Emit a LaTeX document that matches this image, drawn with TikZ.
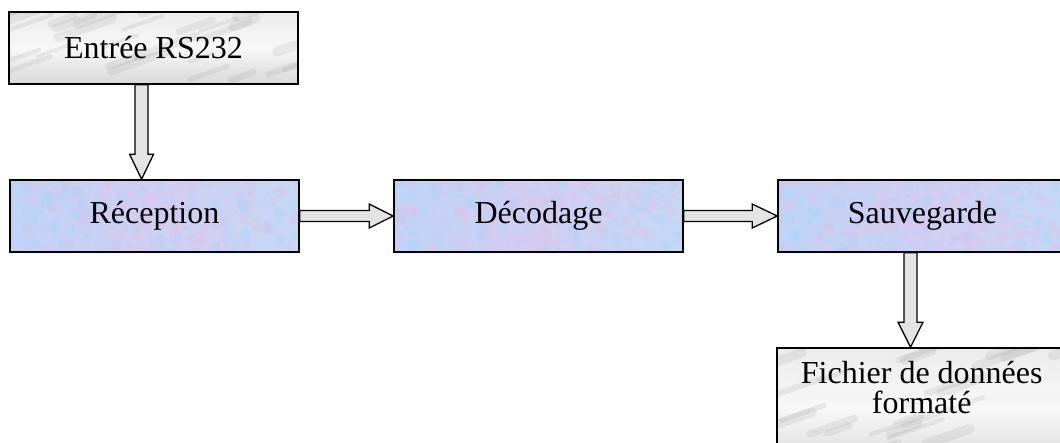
\documentclass[tikz,border=0pt]{standalone}
\usepackage{fontspec}
\setmainfont{Liberation Serif}
\usetikzlibrary{calc}
\definecolor{blueA}{RGB}{190,212,246}
\definecolor{blueB}{RGB}{210,206,242}
\definecolor{blueC}{RGB}{196,216,244}
\definecolor{pinkish}{RGB}{225,192,232}
\definecolor{bluish}{RGB}{170,212,248}
\definecolor{marbleA}{RGB}{236,236,236}
\definecolor{marbleB}{RGB}{216,216,216}
\definecolor{streak}{RGB}{140,140,140}
\definecolor{arrowfill}{RGB}{228,228,228}
\tikzset{
  box/.style={draw=black, line width=1.6pt, minimum width=289pt, minimum height=72pt,
    inner sep=0pt, font=\fontsize{32}{30}\selectfont, align=center},
  bluebox/.style={box, left color=blueA, right color=blueC, middle color=blueB,
    path picture={
      \path (path picture bounding box.south west) coordinate (sw)
            (path picture bounding box.north east) coordinate (ne);
      \foreach \k in {1,...,260}{
        \pgfmathsetmacro\px{rnd}\pgfmathsetmacro\py{rnd}\pgfmathsetmacro\pr{2+4*rnd}
        \pgfmathsetmacro\pc{rnd}
        \coordinate (qx) at ($(sw)!\px!(sw -| ne)$);
        \coordinate (qy) at ($(sw)!\py!(sw |- ne)$);
        \ifdim\pc pt<0.5pt
          \fill[pinkish, opacity=0.3] (qx |- qy) circle[radius=\pr pt];
        \else
          \fill[bluish, opacity=0.3] (qx |- qy) circle[radius=\pr pt];
        \fi
      }}},
  graybox/.style={box, top color=marbleA, bottom color=marbleB, middle color=white!94!gray,
    path picture={
      \path (path picture bounding box.south west) coordinate (sw)
            (path picture bounding box.north east) coordinate (ne);
      \foreach \k in {1,...,30}{
        \pgfmathsetmacro\px{1.2*rnd-0.15}\pgfmathsetmacro\py{rnd}\pgfmathsetmacro\pl{20+40*rnd}
        \pgfmathsetmacro\pw{3+7*rnd}
        \coordinate (qx) at ($(sw)!\px!(sw -| ne)$);
        \coordinate (qy) at ($(sw)!\py!(sw |- ne)$);
        \draw[streak, opacity=0.14, line width=\pw pt, line cap=round] (qx |- qy) -- ++(\pl,-0.35*\pl);
      }}},
  lbl/.style={inner sep=0pt, font=\fontsize{32}{30}\selectfont, align=center},
  barrow/.style={draw=black, line width=1.3pt, fill=arrowfill, line join=miter}
}
\begin{document}
\begin{tikzpicture}[x=1pt,y=-1pt]
\pgfmathsetseed{7}
\useasboundingbox (0,0) rectangle (1060,442);
\clip (0,0) rectangle (1060,442);
\node[graybox] (entree) at (153.5,48) {Entrée RS232};
\node[bluebox] (recep) at (154.5,216) {Réception};
\node[bluebox] (decod) at (538.5,216) {Décodage};
\node[bluebox] (sauve) at (922.5,216) {Sauvegarde};
\node[graybox, minimum height=122pt] (fich) at (921.5,409) {};
\node[lbl] (fichtxt) at (921.7,388) {Fichier de données\\formaté};
% down arrow 1
\coordinate (a1s) at ($(entree.south west)!0.459!(entree.south east)$);
\coordinate (a1e) at (a1s |- recep.north);
\draw[barrow] ($(a1s)+(-6.5,0)$) -- ($(a1e)+(-6.5,-25)$) -- ($(a1e)+(-12,-25)$) -- (a1e)
  -- ($(a1e)+(12,-25)$) -- ($(a1e)+(6.5,-25)$) -- ($(a1s)+(6.5,0)$) -- cycle;
% right arrow 1
\coordinate (a2s) at (recep.east);
\coordinate (a2e) at (decod.west);
\draw[barrow] ($(a2s)+(0,-5.5)$) -- ($(a2e)+(-24,-5.5)$) -- ($(a2e)+(-24,-12)$) -- (a2e)
  -- ($(a2e)+(-24,12)$) -- ($(a2e)+(-24,5.5)$) -- ($(a2s)+(0,5.5)$) -- cycle;
% right arrow 2
\coordinate (a3s) at (decod.east);
\coordinate (a3e) at (sauve.west);
\draw[barrow] ($(a3s)+(0,-5.5)$) -- ($(a3e)+(-25,-5.5)$) -- ($(a3e)+(-25,-12)$) -- (a3e)
  -- ($(a3e)+(-25,12)$) -- ($(a3e)+(-25,5.5)$) -- ($(a3s)+(0,5.5)$) -- cycle;
% down arrow 2
\coordinate (a4s) at (910.5,0 |- sauve.south);
\coordinate (a4e) at (a4s |- fich.north);
\draw[barrow] ($(a4s)+(-6.5,0)$) -- ($(a4e)+(-6.5,-25)$) -- ($(a4e)+(-12.5,-25)$) -- (a4e)
  -- ($(a4e)+(12.5,-25)$) -- ($(a4e)+(6.5,-25)$) -- ($(a4s)+(6.5,0)$) -- cycle;
\end{tikzpicture}
\end{document}
